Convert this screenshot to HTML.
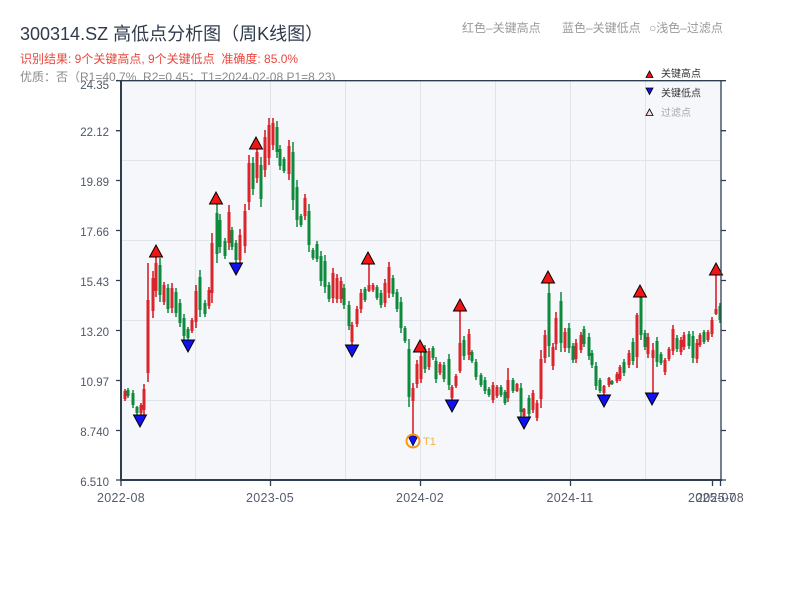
<!DOCTYPE html>
<html>
<head>
<meta charset="utf-8">
<style>
  html,body{margin:0;padding:0;background:#ffffff;}
  body{width:800px;height:600px;overflow:hidden;}
  svg{display:block;font-family:"Liberation Sans","Noto Sans CJK SC",sans-serif;}
</style>
</head>
<body>
<svg width="800" height="600" viewBox="0 0 800 600" xmlns="http://www.w3.org/2000/svg">
  <rect x="0" y="0" width="800" height="600" fill="#ffffff"/>

  <!-- Title & subtitles -->
  <text x="20" y="40" font-size="18" fill="#2f3b4c">300314.SZ 高低点分析图（周K线图）</text>
  <text x="20" y="63" font-size="12" fill="#e8473d">识别结果: 9个关键高点, 9个关键低点&#160;&#160;准确度: 85.0%</text>
  <text x="20" y="81" font-size="12" fill="#8a8a8a">优质：否（R1=40.7%, R2=0.45；T1=2024-02-08 P1=8.23)</text>

  <!-- header legend -->
  <text x="462" y="32" font-size="12" fill="#9a9a9a">红色–关键高点</text>
  <text x="562" y="32" font-size="12" fill="#9a9a9a">蓝色–关键低点</text>
  <text x="649" y="32" font-size="12" fill="#9a9a9a">○浅色–过滤点</text>

  <!-- plot area -->
  <rect x="121" y="80.7" width="600" height="399.3" fill="#f5f7fa"/>

  <!-- grid -->
  <g stroke="#dfe3ea" stroke-width="1">
    <path d="M195.5 81V480 M270.5 81V480 M345.5 81V480 M420.5 81V480 M495.5 81V480 M570.5 81V480 M645.5 81V480"/>
    <path d="M121 160.5H721 M121 240.5H721 M121 320.5H721 M121 400.5H721"/>
  </g>

  <!-- red candles -->
  <path fill="none" stroke="#d3141c" stroke-width="1.5" d="M125 389V401 M141 403V415 M144 384V415 M148 263V382 M153 271V318 M156 257V297 M164 282V305 M172 283V313 M192 318V333 M196 285V328 M209 287V309 M212 233V303 M229 205V250 M240 229V266 M245 204V253 M249 155V210 M257 147V183 M265 130V177 M269 118V165 M273 118V150 M289 140V180 M305 194V220 M333 268V303 M337 274V303 M341 277V303 M352 322V345 M357 306V327 M361 289V313 M369 264V292 M373 283V292 M385 279V307 M389 262V298 M413 383V441 M417 360V388 M421 352V383 M429 348V370 M440 362V375 M452 385V400 M456 374V388 M460 311V373 M469 329V360 M493 382V403 M497 385V398 M508 368V402 M517 383V392 M524 408V417 M533 390V413 M537 400V421 M541 350V408 M545 330V363 M553 343V370 M556 312V350 M565 328V352 M576 339V363 M581 332V353 M604 385V395 M609 377V387 M617 372V383 M620 365V381 M629 350V368 M637 313V368 M648 333V358 M653 343V393 M665 358V375 M669 347V361 M673 325V355 M681 337V355 M684 332V350 M697 339V363 M700 333V347 M708 330V342 M712 317V337 M716 275V315"/>
  <path fill="none" stroke="#d9252b" stroke-width="3" d="M125 391V399 M141 405V413 M144 389V410 M148 300V373 M153 278V311 M156 263V291 M164 285V302 M172 288V308 M192 320V331 M196 291V322 M209 290V306 M212 243V293 M229 212V243 M240 235V260 M245 211V246 M249 163V202 M257 152V178 M265 137V170 M269 125V158 M273 123V145 M289 146V174 M305 198V216 M333 273V298 M337 278V299 M341 281V299 M352 325V342 M357 309V324 M361 293V309 M369 285V291 M373 285V290 M385 283V303 M389 267V293 M413 388V401 M417 364V384 M421 356V379 M429 351V367 M440 364V373 M452 387V398 M456 376V386 M460 343V371 M469 334V355 M493 385V400 M497 387V396 M508 380V398 M517 384V391 M524 409V416 M533 393V410 M537 403V418 M541 359V399 M545 335V358 M553 347V366 M556 318V344 M565 332V348 M576 343V359 M581 335V350 M604 386V393 M609 378V385 M617 374V381 M620 367V379 M629 353V365 M637 315V357 M648 337V354 M653 350V358 M665 360V372 M669 349V359 M673 329V351 M681 340V352 M684 335V347 M697 343V359 M700 335V345 M708 332V340 M712 320V334 M716 309V314"/>

  <!-- green candles -->
  <path fill="none" stroke="#0d8a3c" stroke-width="1.5" d="M128 388V398 M133 390V408 M137 406V415 M160 258V302 M168 284V313 M176 288V317 M180 299V327 M184 314V340 M188 327V340 M200 270V317 M205 300V317 M217 204V263 M220 214V253 M225 238V259 M232 227V250 M236 240V263 M253 157V195 M261 157V207 M277 121V158 M280 145V170 M284 157V173 M293 142V210 M297 180V227 M301 214V227 M309 204V252 M313 248V260 M317 241V262 M321 251V286 M325 255V293 M329 282V302 M344 284V309 M349 301V330 M365 287V302 M377 285V300 M381 290V308 M393 275V297 M397 289V312 M401 297V333 M405 326V343 M409 339V407 M425 345V373 M433 346V360 M436 357V383 M444 362V382 M449 354V390 M464 336V360 M472 350V363 M476 359V380 M481 373V387 M485 377V394 M489 387V397 M501 385V397 M505 390V405 M513 378V393 M521 383V417 M529 395V417 M549 282V357 M561 292V352 M569 323V353 M573 343V363 M584 326V347 M589 333V360 M592 350V368 M596 362V390 M600 378V393 M612 380V385 M624 359V376 M633 338V365 M641 297V340 M645 330V350 M657 337V367 M661 352V365 M677 335V352 M689 331V349 M693 331V363 M704 330V344 M720 303V323"/>
  <path fill="none" stroke="#0d8a3c" stroke-width="3" d="M128 390V396 M133 393V405 M137 407V413 M160 265V295 M168 288V309 M176 292V313 M180 303V323 M184 318V336 M188 329V338 M200 277V310 M205 303V314 M217 213V254 M220 220V247 M225 241V256 M232 230V247 M236 243V260 M253 163V189 M261 165V199 M277 127V152 M280 149V166 M284 159V171 M293 152V200 M297 187V220 M301 216V225 M309 211V245 M313 250V258 M317 244V259 M321 256V281 M325 261V287 M329 285V299 M344 288V305 M349 305V326 M365 289V300 M377 287V298 M381 293V305 M393 278V294 M397 292V309 M401 302V328 M405 328V341 M409 349V397 M425 349V369 M433 348V358 M436 361V379 M444 365V379 M449 359V385 M464 340V356 M472 352V361 M476 362V377 M481 375V385 M485 380V391 M489 389V395 M501 387V395 M505 392V403 M513 380V391 M521 388V412 M529 398V414 M549 293V346 M561 301V343 M569 328V348 M573 346V360 M584 329V344 M589 337V356 M592 353V365 M596 366V386 M600 380V391 M612 381V384 M624 362V373 M633 342V361 M641 297V335 M645 333V347 M657 341V362 M661 354V363 M677 338V349 M689 334V346 M693 336V358 M704 332V342 M720 306V320"/>

  <!-- high markers -->
  <g fill="#f01414" stroke="#000" stroke-width="1">
    <polygon points="149.5,257 162.5,257 156,245"/>
    <polygon points="209.5,204 222.5,204 216,192"/>
    <polygon points="249.5,149 262.5,149 256,137"/>
    <polygon points="361.5,264 374.5,264 368,252"/>
    <polygon points="413.5,352 426.5,352 420,340"/>
    <polygon points="453.5,311 466.5,311 460,299"/>
    <polygon points="541.5,283 554.5,283 548,271"/>
    <polygon points="633.5,297 646.5,297 640,285"/>
    <polygon points="709.5,275 722.5,275 716,263"/>
  </g>
  <!-- low markers -->
  <g fill="#1010f0" stroke="#000" stroke-width="1">
    <polygon points="133.5,415 146.5,415 140,427"/>
    <polygon points="181.5,340 194.5,340 188,352"/>
    <polygon points="229.5,263 242.5,263 236,275"/>
    <polygon points="345.5,345 358.5,345 352,357"/>
    <polygon points="445.5,400 458.5,400 452,412"/>
    <polygon points="517.5,417 530.5,417 524,429"/>
    <polygon points="597.5,395 610.5,395 604,407"/>
    <polygon points="645.5,393 658.5,393 652,405"/>
  </g>

  <!-- T1 marker -->
  <polygon points="408,436 418,436 413,446" fill="#1010f0" stroke="#000" stroke-width="0.6"/>
  <circle cx="413" cy="441" r="6.5" fill="none" stroke="#f39c12" stroke-width="2"/>
  <text x="423" y="445" font-size="11" fill="#f5b041">T1</text>

  <!-- axes -->
  <g stroke="#2c3e50" fill="none">
    <line x1="121" y1="80" x2="121" y2="481" stroke-width="2"/>
    <line x1="120" y1="480" x2="722" y2="480" stroke-width="2"/>
    <line x1="121" y1="80.7" x2="721" y2="80.7" stroke-width="1.3"/>
    <line x1="721" y1="80.7" x2="721" y2="481" stroke-width="1.3"/>
    <path stroke-width="1.3" d="M116 80.7H121 M116 130.7H121 M116 180.5H121 M116 230.5H121 M116 280.5H121 M116 330.5H121 M116 380.5H121 M116 430.5H121 M116 480H121"/>
    <path stroke-width="1.3" d="M721 80.7H726 M721 130.7H726 M721 180.5H726 M721 230.5H726 M721 280.5H726 M721 330.5H726 M721 380.5H726 M721 430.5H726 M721 480H726"/>
    <path stroke-width="1.3" d="M121 480V486 M270.5 480V486 M420.5 480V486 M570.5 480V486 M712.5 480V486 M720.5 480V486"/>
  </g>

  <!-- y labels -->
  <g font-size="11.5" fill="#4f5866" text-anchor="end">
    <text x="109" y="89">24.35</text>
    <text x="109" y="136">22.12</text>
    <text x="109" y="186">19.89</text>
    <text x="109" y="236">17.66</text>
    <text x="109" y="286">15.43</text>
    <text x="109" y="336">13.20</text>
    <text x="109" y="386">10.97</text>
    <text x="109" y="436">8.740</text>
    <text x="109" y="486">6.510</text>
  </g>

  <!-- x labels -->
  <g font-size="12.5" fill="#555d6b" text-anchor="middle" letter-spacing="0.3">
    <text x="121" y="502">2022-08</text>
    <text x="270" y="502">2023-05</text>
    <text x="420" y="502">2024-02</text>
    <text x="570" y="502">2024-11</text>
    <text x="712" y="502">2025-07</text>
    <text x="720" y="502">2025-08</text>
  </g>

  <!-- legend -->
  <polygon points="646,77.5 653,77.5 649.5,71" fill="#f01414" stroke="#000" stroke-width="0.8"/>
  <text x="661" y="77" font-size="10" fill="#333">关键高点</text>
  <polygon points="646,88 653,88 649.5,94.5" fill="#1010f0" stroke="#000" stroke-width="0.8"/>
  <text x="661" y="96.5" font-size="10" fill="#333">关键低点</text>
  <polygon points="646,115.5 653,115.5 649.5,109" fill="#fde0e0" stroke="#000" stroke-width="0.8"/>
  <text x="661" y="116" font-size="10" fill="#aaaaaa">过滤点</text>
</svg>
</body>
</html>
